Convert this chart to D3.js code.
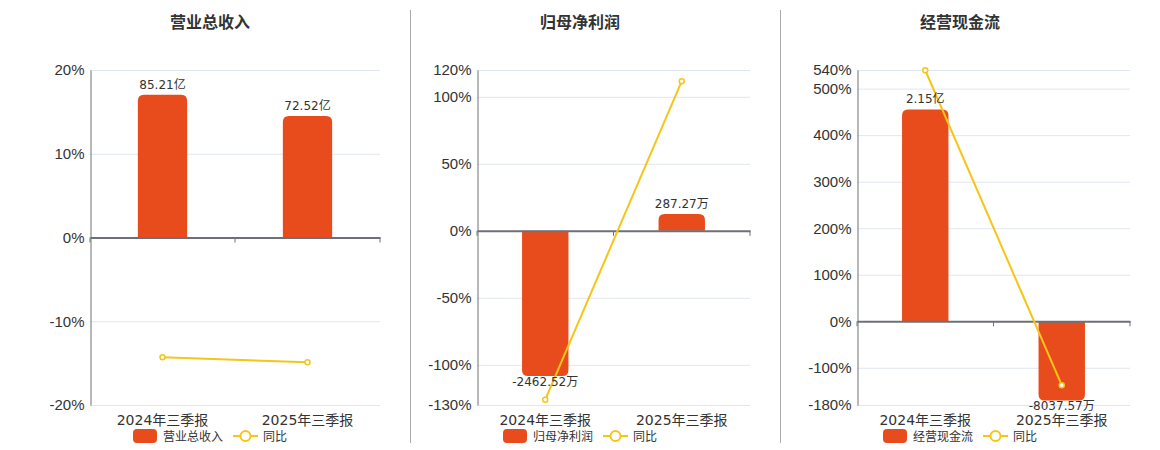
<!DOCTYPE html>
<html>
<head>
<meta charset="utf-8">
<script src="https://cdn.jsdelivr.net/npm/d3@7"></script>
<style>
    body { margin: 0; background: #fff; }
    svg { display: block; font-family: "DejaVu Sans", "Noto Sans CJK SC", sans-serif; }
</style>
</head>
<body>
<div id="chart"></div>
<script>
// values in 万元, yoy in %
const categories = ['2024年三季报', '2025年三季报'];
const titles = ['营业总收入', '归母净利润', '经营现金流'];
const revenue = [852100, 725200];
const netProfit = [-2462.52, 287.27];
const cashFlow = [21500, -8037.57];
const revenueYoy = [-14.3, -14.89];
const netProfitYoy = [-126.0, 111.67];
const cashFlowYoy = [539.5, -137.38];
const revenueTicks = [20, 10, 0, -10, -20];
const netProfitTicks = [120, 100, 50, 0, -50, -100, -130];
const cashFlowTicks = [540, 500, 400, 300, 200, 100, 0, -100, -180];
// hidden bar axis ranges, aligned on zero with the percent axis
const barAxes = [[-1000000, 1000000], [-2955, 2728], [-8500, 25500]];

const barColor = '#e84c1d';
const lineColor = '#f5c518';
const textColor = '#333';
const axisColor = '#6e7079';
const gridColor = '#e0e6f1';

const width = 1160, height = 450;
const plotTop = 70, plotBottom = 405;

const panels = [
    { left: 90, right: 380, cx: 210, bars: revenue, yoy: revenueYoy, ticks: revenueTicks },
    { left: 477, right: 750, cx: 580, bars: netProfit, yoy: netProfitYoy, ticks: netProfitTicks },
    { left: 857, right: 1130, cx: 960, bars: cashFlow, yoy: cashFlowYoy, ticks: cashFlowTicks }
];

const fmt = v => Math.abs(v) >= 10000 ? (v / 10000).toFixed(2) + '亿' : v.toFixed(2) + '万';

const svg = d3.select('#chart').append('svg')
    .attr('width', width)
    .attr('height', height);

// separators
[410.5, 780.5].forEach(x => {
    svg.append('line')
        .attr('x1', x).attr('x2', x)
        .attr('y1', 10).attr('y2', 443)
        .attr('stroke', '#aaa');
});

// bar path with rounded far end
function barPath(x, w, y0, y1, r) {
    const up = y1 < y0;
    const h = Math.abs(y1 - y0);
    r = Math.min(r, h, w / 2);
    if (up) {
        return `M${x},${y0}V${y1 + r}Q${x},${y1} ${x + r},${y1}H${x + w - r}Q${x + w},${y1} ${x + w},${y1 + r}V${y0}Z`;
    }
    return `M${x},${y0}V${y1 - r}Q${x},${y1} ${x + r},${y1}H${x + w - r}Q${x + w},${y1} ${x + w},${y1 - r}V${y0}Z`;
}

panels.forEach((p, i) => {
    const g = svg.append('g');

    const x = d3.scaleBand()
        .domain(categories)
        .range([p.left, p.right])
        .padding(0);
    const y = d3.scaleLinear()
        .domain([d3.min(p.ticks), d3.max(p.ticks)])
        .range([plotBottom, plotTop]);
    const yBar = d3.scaleLinear()
        .domain(barAxes[i])
        .range([plotBottom, plotTop]);

    // title
    g.append('text')
        .attr('x', p.cx).attr('y', 28)
        .attr('text-anchor', 'middle')
        .attr('font-size', 16).attr('font-weight', 'bold')
        .attr('fill', textColor)
        .text(titles[i]);

    // grid
    g.selectAll('.grid')
        .data(p.ticks.filter(t => t !== 0))
        .enter().append('line')
        .attr('x1', p.left).attr('x2', p.right)
        .attr('y1', d => y(d) + 0.5).attr('y2', d => y(d) + 0.5)
        .attr('stroke', gridColor);

    // y axis
    const yAxis = g.append('g')
        .attr('transform', `translate(${p.left + 0.5},0)`)
        .call(d3.axisLeft(y).tickValues(p.ticks).tickSize(0).tickPadding(6).tickFormat(d => d + '%'));
    yAxis.select('.domain').attr('stroke', axisColor);
    yAxis.selectAll('text').attr('font-size', 15).attr('fill', textColor).attr('font-family', null);

    // bars
    const bw = x.bandwidth() * 0.34;
    g.selectAll('.bar')
        .data(p.bars)
        .enter().append('path')
        .attr('d', (d, j) => barPath(x(categories[j]) + (x.bandwidth() - bw) / 2, bw, yBar(0), yBar(d), 6))
        .attr('fill', barColor);

    // x axis on zero line
    const xAxis = g.append('g')
        .attr('transform', `translate(0,${y(0)})`)
        .call(d3.axisBottom(x).tickSize(0).tickFormat(''));
    xAxis.select('.domain').attr('stroke', axisColor).attr('stroke-width', 2);
    g.selectAll('.xtick')
        .data(categories.map((c, j) => x(c) + x.bandwidth()).concat([p.left]))
        .enter().append('line')
        .attr('x1', d => d).attr('x2', d => d)
        .attr('y1', y(0)).attr('y2', y(0) + 5)
        .attr('stroke', axisColor);

    // category labels
    g.selectAll('.xlabel')
        .data(categories)
        .enter().append('text')
        .attr('x', d => x(d) + x.bandwidth() / 2)
        .attr('y', 425)
        .attr('text-anchor', 'middle')
        .attr('font-size', 14)
        .attr('fill', textColor)
        .text(d => d);

    // yoy line
    const line = d3.line()
        .x((d, j) => x(categories[j]) + x.bandwidth() / 2)
        .y(d => y(d));
    g.append('path')
        .datum(p.yoy)
        .attr('d', line)
        .attr('fill', 'none')
        .attr('stroke', lineColor)
        .attr('stroke-width', 2);
    g.selectAll('.dot')
        .data(p.yoy)
        .enter().append('circle')
        .attr('cx', (d, j) => x(categories[j]) + x.bandwidth() / 2)
        .attr('cy', d => y(d))
        .attr('r', 2.5)
        .attr('fill', '#fff')
        .attr('stroke', lineColor)
        .attr('stroke-width', 1.5);

    // bar labels
    g.selectAll('.blabel')
        .data(p.bars)
        .enter().append('text')
        .attr('x', (d, j) => x(categories[j]) + x.bandwidth() / 2)
        .attr('y', d => d >= 0 ? yBar(d) - 6 : yBar(d) + 10)
        .attr('text-anchor', 'middle')
        .attr('font-size', 12)
        .attr('fill', textColor)
        .text(d => fmt(d));

    // legend
    const lg = g.append('g').attr('transform', `translate(${p.cx - 77},436)`);
    lg.append('rect')
        .attr('x', 0).attr('y', -7)
        .attr('width', 24).attr('height', 14)
        .attr('rx', 4)
        .attr('fill', barColor);
    lg.append('text')
        .attr('x', 30).attr('y', 4.5)
        .attr('font-size', 12)
        .attr('fill', textColor)
        .text(titles[i]);
    lg.append('line')
        .attr('x1', 100).attr('x2', 125)
        .attr('y1', 0).attr('y2', 0)
        .attr('stroke', lineColor).attr('stroke-width', 2);
    lg.append('circle')
        .attr('cx', 112.5).attr('cy', 0).attr('r', 5)
        .attr('fill', '#fff')
        .attr('stroke', lineColor).attr('stroke-width', 2);
    lg.append('text')
        .attr('x', 130).attr('y', 4.5)
        .attr('font-size', 12)
        .attr('fill', textColor)
        .text('同比');
});
</script>
</body>
</html>
